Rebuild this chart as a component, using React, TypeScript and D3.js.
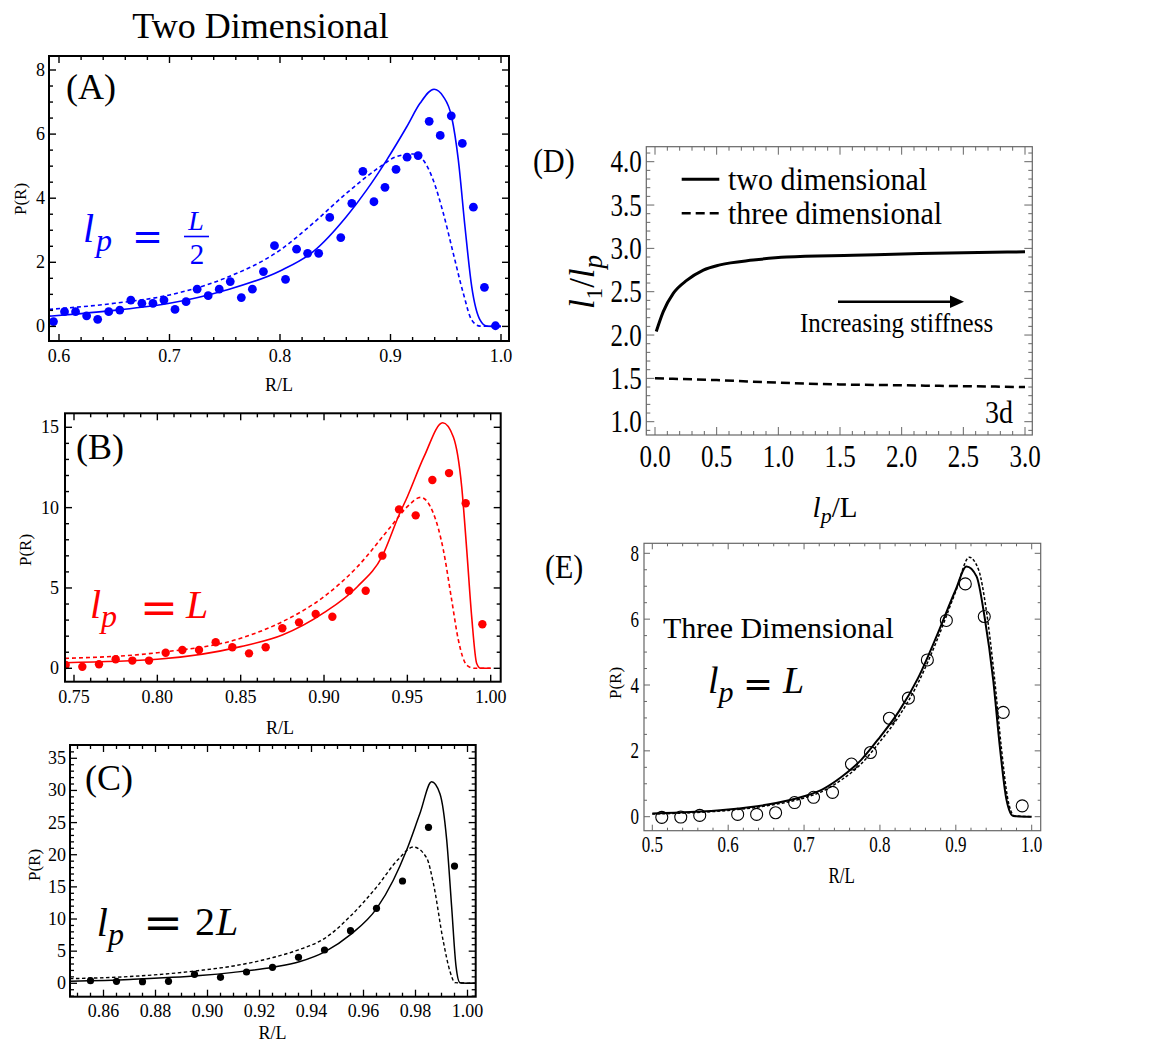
import React from "react";
import * as d3 from "d3";

const FONT = "'Liberation Serif', 'Times New Roman', Times, serif";

// ---------- Panel A (2D, lp = L/2) ----------
const aPointX = [0.595, 0.605, 0.615, 0.625, 0.635, 0.645, 0.655, 0.665, 0.675, 0.685, 0.695, 0.705, 0.715, 0.725, 0.735, 0.745, 0.755, 0.765, 0.775, 0.785, 0.795, 0.805, 0.815, 0.825, 0.835, 0.845, 0.855, 0.865, 0.875, 0.885, 0.895, 0.905, 0.915, 0.925, 0.935, 0.945, 0.955, 0.965, 0.975, 0.985, 0.995];
const aPointY = [0.15, 0.46, 0.46, 0.33, 0.22, 0.46, 0.51, 0.82, 0.72, 0.72, 0.82, 0.53, 0.77, 1.16, 0.96, 1.16, 1.4, 0.9, 1.16, 1.71, 2.52, 1.47, 2.41, 2.28, 2.28, 3.4, 2.77, 3.84, 4.84, 3.89, 4.34, 4.9, 5.28, 5.33, 6.4, 5.96, 6.57, 5.71, 3.72, 1.22, 0.02];
const aSolidX = [0.591, 0.62, 0.65, 0.7, 0.75, 0.8, 0.83, 0.86, 0.8785, 0.8965, 0.9147, 0.9267, 0.9394, 0.9478, 0.9553, 0.9614, 0.9674, 0.9735, 0.981, 0.987, 1.0];
const aSolidY = [0.32, 0.4, 0.5, 0.72, 1.12, 1.73, 2.33, 3.42, 4.26, 5.19, 6.23, 6.96, 7.4, 7.17, 6.54, 5.19, 3.11, 1.24, 0.2, 0.01, 0];
const aDashX = [0.591, 0.65, 0.7, 0.75, 0.8, 0.83, 0.86, 0.8905, 0.9056, 0.9206, 0.9296, 0.9387, 0.9478, 0.9568, 0.9659, 0.9735, 0.981, 1.0];
const aDashY = [0.53, 0.72, 0.98, 1.5, 2.38, 3.22, 4.15, 4.98, 5.3, 5.38, 5.19, 4.56, 3.53, 2.28, 1.03, 0.2, 0.01, 0];
const aXTicks = [0.6, 0.7, 0.8, 0.9, 1.0];
const aYTicks = [0, 2, 4, 6, 8];

// ---------- Panel B (2D, lp = L) ----------
const bPointX = [0.745, 0.755, 0.765, 0.775, 0.785, 0.795, 0.805, 0.815, 0.825, 0.835, 0.845, 0.855, 0.865, 0.875, 0.885, 0.895, 0.905, 0.915, 0.925, 0.935, 0.945, 0.955, 0.965, 0.975, 0.985, 0.995];
const bPointY = [0.21, 0.1, 0.25, 0.56, 0.48, 0.48, 0.97, 1.14, 1.14, 1.62, 1.31, 0.93, 1.31, 2.49, 2.86, 3.38, 3.21, 4.83, 4.83, 7.01, 9.89, 9.52, 11.72, 12.15, 10.27, 2.74];
const bSolidX = [0.7446, 0.8, 0.85, 0.875, 0.9, 0.92, 0.935, 0.945, 0.95, 0.96, 0.9712, 0.9776, 0.9826, 0.9856, 0.9886, 0.9916, 0.994, 1.0];
const bSolidY = [0.35, 0.56, 1.35, 2.07, 3.46, 5.08, 7.0, 9.54, 10.68, 13.17, 15.28, 14.4, 11.3, 7.4, 3.2, 0.3, 0, 0];
const bDashX = [0.7446, 0.8, 0.85, 0.875, 0.9, 0.92, 0.94, 0.95, 0.958, 0.9656, 0.9716, 0.9766, 0.9806, 0.9856, 0.99, 1.0];
const bDashY = [0.62, 0.97, 1.87, 2.9, 4.46, 6.32, 8.81, 10.06, 10.64, 9.65, 7.36, 4.25, 1.76, 0.2, 0, 0];
const bXTicks = [0.75, 0.8, 0.85, 0.9, 0.95, 1.0];
const bYTicks = [0, 5, 10, 15];

// ---------- Panel C (2D, lp = 2L) ----------
const cPointX = [0.855, 0.865, 0.875, 0.885, 0.895, 0.905, 0.915, 0.925, 0.935, 0.945, 0.955, 0.965, 0.975, 0.985, 0.995];
const cPointY = [0.41, 0.31, 0.26, 0.31, 1.4, 0.93, 1.76, 2.49, 4.04, 5.18, 8.18, 11.66, 15.91, 24.26, 18.24];
const cSolidX = [0.8471, 0.87, 0.8971, 0.91, 0.9251, 0.9356, 0.9451, 0.9551, 0.9651, 0.9715, 0.9766, 0.9817, 0.9862, 0.9894, 0.992, 0.9939, 0.9956, 0.9971, 1.003];
const cSolidY = [0.31, 0.6, 1.2, 1.7, 2.5, 3.4, 4.9, 7.6, 11.66, 16.07, 20.73, 26.4, 31.35, 29.5, 22.3, 11.9, 2.6, 0.1, 0];
const cDashX = [0.8471, 0.87, 0.8971, 0.91, 0.9251, 0.935, 0.9451, 0.9551, 0.9651, 0.9734, 0.9792, 0.9843, 0.9869, 0.9907, 0.9933, 0.9952, 1.003];
const cDashY = [0.72, 1.05, 2.0, 2.7, 4.0, 5.2, 7.0, 10.5, 15.0, 19.3, 21.2, 19.5, 15.5, 6.5, 1.8, 0.1, 0];
const cXTicks = [0.86, 0.88, 0.9, 0.92, 0.94, 0.96, 0.98, 1.0];
const cYTicks = [0, 5, 10, 15, 20, 25, 30, 35];

// ---------- Panel D (l1/lp vs lp/L) ----------
const dTwoX = [0.01, 0.067, 0.148, 0.257, 0.392, 0.527, 0.797, 1.068, 1.608, 2.149, 3.0];
const dTwoY = [2.04, 2.27, 2.48, 2.63, 2.75, 2.81, 2.865, 2.9, 2.92, 2.94, 2.96];
const dThreeX = [0.0, 0.5, 1.0, 1.5, 2.0, 2.5, 3.0];
const dThreeY = [1.5, 1.48, 1.45, 1.43, 1.42, 1.41, 1.4];
const dXTicks = [0, 0.5, 1.0, 1.5, 2.0, 2.5, 3.0];
const dYTicks = [1.0, 1.5, 2.0, 2.5, 3.0, 3.5, 4.0];

// ---------- Panel E (3D, lp = L) ----------
const ePointX = [0.5125, 0.5375, 0.5625, 0.6125, 0.6375, 0.6625, 0.6875, 0.7125, 0.7375, 0.7625, 0.7875, 0.8125, 0.8375, 0.8625, 0.8875, 0.9125, 0.9375, 0.9625, 0.9875];
const ePointY = [-0.02, -0.01, 0.04, 0.07, 0.07, 0.12, 0.43, 0.59, 0.74, 1.6, 1.95, 2.99, 3.6, 4.76, 5.96, 7.07, 6.08, 3.17, 0.33];
const eSolidX = [0.5, 0.55, 0.6, 0.65, 0.7, 0.725, 0.75, 0.775, 0.8, 0.825, 0.85, 0.875, 0.9, 0.914, 0.9273, 0.9378, 0.9493, 0.958, 0.9668, 0.9756, 1.0];
const eSolidY = [0.1, 0.14, 0.22, 0.36, 0.62, 0.84, 1.22, 1.72, 2.42, 3.2, 4.2, 5.5, 6.9, 7.6, 7.3, 6.08, 4.15, 2.13, 0.51, 0.02, 0];
const eDashX = [0.5, 0.55, 0.6, 0.65, 0.7, 0.725, 0.75, 0.775, 0.8, 0.825, 0.85, 0.875, 0.9, 0.9177, 0.93, 0.94, 0.951, 0.96, 0.968, 0.977, 1.0];
const eDashY = [0.08, 0.12, 0.19, 0.33, 0.57, 0.78, 1.13, 1.6, 2.28, 3.05, 4.05, 5.35, 6.85, 7.88, 7.5, 6.3, 4.2, 2.1, 0.6, 0.03, 0];
const eXTicks = [0.5, 0.6, 0.7, 0.8, 0.9, 1.0];
const eYTicks = [0, 2, 4, 6, 8];

type Scale = d3.ScaleLinear<number, number>;
type Box = [number, number, number, number];

function minorTicks(lo: number, hi: number, step: number, majors: number[]) {
  const a = Math.ceil(lo / step - 1e-6);
  const b = Math.floor(hi / step + 1e-6);
  return d3.range(a, b + 1).map((k) => k * step).filter((v) => !majors.some((m) => Math.abs(m - v) < step / 10));
}

function Frame(props: {
  box: Box; xs: Scale; ys: Scale; xMajor: number[]; yMajor: number[];
  xMinor: number; yMinor: number; color: string; sw: number; tw: number; maj: number; min: number;
}) {
  const { box, xs, ys, xMajor, yMajor, xMinor, yMinor, color, sw, tw, maj, min } = props;
  const [x0, y0, x1, y1] = box;
  const ticks: JSX.Element[] = [];
  const xm = minorTicks(xs.invert(x0), xs.invert(x1), xMinor, xMajor);
  const ym = minorTicks(ys.invert(y1), ys.invert(y0), yMinor, yMajor);
  const addX = (v: number, len: number, k: string) => {
    const x = xs(v);
    if (x < x0 + 0.5 || x > x1 - 0.5) return;
    ticks.push(<line key={"xb" + k} x1={x} x2={x} y1={y1} y2={y1 - len} />);
    ticks.push(<line key={"xt" + k} x1={x} x2={x} y1={y0} y2={y0 + len} />);
  };
  const addY = (v: number, len: number, k: string) => {
    const y = ys(v);
    if (y < y0 + 0.5 || y > y1 - 0.5) return;
    ticks.push(<line key={"yl" + k} x1={x0} x2={x0 + len} y1={y} y2={y} />);
    ticks.push(<line key={"yr" + k} x1={x1} x2={x1 - len} y1={y} y2={y} />);
  };
  xMajor.forEach((v, i) => addX(v, maj, "M" + i));
  xm.forEach((v, i) => addX(v, min, "m" + i));
  yMajor.forEach((v, i) => addY(v, maj, "M" + i));
  ym.forEach((v, i) => addY(v, min, "m" + i));
  return (
    <g>
      <g stroke={color} strokeWidth={tw}>{ticks}</g>
      <rect x={x0} y={y0} width={x1 - x0} height={y1 - y0} fill="none" stroke={color} strokeWidth={sw} />
    </g>
  );
}

function curvePath(xs: Scale, ys: Scale, X: number[], Y: number[]) {
  const pts: [number, number][] = X.map((x, i) => [x, Y[i]]);
  return d3.line<[number, number]>().x((d) => xs(d[0])).y((d) => ys(d[1])).curve(d3.curveMonotoneX)(pts) || "";
}

function Clip({ id, box }: { id: string; box: Box }) {
  return (
    <clipPath id={id}>
      <rect x={box[0]} y={box[1]} width={box[2] - box[0]} height={box[3] - box[1]} />
    </clipPath>
  );
}

function Eq({ cx, base, w, size, color }: { cx: number; base: number; w: number; size: number; color: string }) {
  return (
    <text x={cx - w / 2} y={base} fontSize={size} fill={color} fontStyle="normal" fontFamily="'DejaVu Serif', serif" textLength={w} lengthAdjust="spacingAndGlyphs">=</text>
  );
}

export default function App() {
  // Panel A
  const aBox: Box = [49, 56, 509, 341];
  const aX = d3.scaleLinear().domain([0.6, 1.0]).range([59, 501]);
  const aY = d3.scaleLinear().domain([0, 8]).range([326.4, 70]);
  // Panel B
  const bBox: Box = [65, 413.3, 500.7, 681.7];
  const bX = d3.scaleLinear().domain([0.75, 1.0]).range([74, 490.7]);
  const bY = d3.scaleLinear().domain([0, 15]).range([668.3, 427.3]);
  // Panel C
  const cBox: Box = [70, 745, 475.7, 996.7];
  const cX = d3.scaleLinear().domain([0.86, 1.0]).range([103.5, 467.5]);
  const cY = d3.scaleLinear().domain([0, 35]).range([983.3, 758.3]);
  // Panel D
  const dBox: Box = [646.3, 146.7, 1032.3, 435];
  const dX = d3.scaleLinear().domain([0, 3]).range([655, 1025]);
  const dY = d3.scaleLinear().domain([1, 4]).range([421.7, 161.7]);
  // Panel E
  const eBox: Box = [644, 543.3, 1040.7, 830.7];
  const eX = d3.scaleLinear().domain([0.5, 1.0]).range([652.3, 1031.7]);
  const eY = d3.scaleLinear().domain([0, 8]).range([816.7, 553.3]);

  const f1 = d3.format(".1f");
  const f2 = d3.format(".2f");
  const f0 = d3.format("d");
  const BLUE = "#0000ff";
  const RED = "#ff0000";
  const GRAY = "#666666";

  return (
    <svg width={1153} height={1044} style={{ position: "absolute", left: 0, top: 0, background: "#fff" }} fontFamily={FONT}>
      <defs>
        <Clip id="clipA" box={aBox} />
        <Clip id="clipB" box={bBox} />
        <Clip id="clipC" box={cBox} />
        <Clip id="clipD" box={dBox} />
        <Clip id="clipE" box={eBox} />
      </defs>
      <rect x={0} y={0} width={1153} height={1044} fill="#fff" />

      {/* Title */}
      <text x={260.5} y={38} fontSize={36} textAnchor="middle">Two Dimensional</text>

      {/* ================= Panel A ================= */}
      <g clipPath="url(#clipA)" fill="none" stroke={BLUE}>
        <path d={curvePath(aX, aY, aDashX, aDashY)} strokeWidth={1.6} strokeDasharray="4,3" />
        <path d={curvePath(aX, aY, aSolidX, aSolidY)} strokeWidth={1.6} />
      </g>
      <g fill={BLUE}>
        {aPointX.map((x, i) => <circle key={i} cx={aX(x)} cy={aY(aPointY[i])} r={4.4} />)}
      </g>
      <Frame box={aBox} xs={aX} ys={aY} xMajor={aXTicks} yMajor={aYTicks} xMinor={0.02} yMinor={0.5} color="#000" sw={2} tw={1.4} maj={7} min={4} />
      <g fontSize={18}>
        {aXTicks.map((v) => <text key={v} x={aX(v)} y={361.5} textAnchor="middle">{f1(v)}</text>)}
        {aYTicks.map((v) => <text key={v} x={45} y={aY(v) + 6} textAnchor="end">{f0(v)}</text>)}
        <text x={279} y={391} textAnchor="middle">R/L</text>
        <text transform={`translate(26,199) rotate(-90)`} textAnchor="middle" fontSize={17}>P(R)</text>
      </g>
      <text x={66} y={98.5} fontSize={36}>(A)</text>
      <g fill={BLUE} fontStyle="italic">
        <text x={83} y={242} fontSize={40}>l</text>
        <text x={96} y={251} fontSize={32}>p</text>
        <Eq cx={147.5} base={250} w={31} size={40} color={BLUE} />
        <text x={196} y={230} fontSize={28} textAnchor="middle">L</text>
        <line x1={184} x2={209} y1={236.5} y2={236.5} stroke={BLUE} strokeWidth={1.6} />
        <text x={197} y={263.5} fontSize={29} fontStyle="normal" textAnchor="middle">2</text>
      </g>

      {/* ================= Panel B ================= */}
      <g clipPath="url(#clipB)" fill="none" stroke={RED}>
        <path d={curvePath(bX, bY, bDashX, bDashY)} strokeWidth={1.6} strokeDasharray="4,3" />
        <path d={curvePath(bX, bY, bSolidX, bSolidY)} strokeWidth={1.6} />
      </g>
      <g fill={RED} clipPath="url(#clipB)">
        {bPointX.map((x, i) => <circle key={i} cx={bX(x)} cy={bY(bPointY[i])} r={4.2} />)}
      </g>
      <Frame box={bBox} xs={bX} ys={bY} xMajor={bXTicks} yMajor={bYTicks} xMinor={0.01} yMinor={1} color="#000" sw={2} tw={1.4} maj={7} min={4} />
      <g fontSize={18}>
        {bXTicks.map((v) => <text key={v} x={bX(v)} y={703} textAnchor="middle">{f2(v)}</text>)}
        {bYTicks.map((v) => <text key={v} x={59} y={bY(v) + 6} textAnchor="end">{f0(v)}</text>)}
        <text x={280} y={734} textAnchor="middle">R/L</text>
        <text transform={`translate(31,550) rotate(-90)`} textAnchor="middle" fontSize={17}>P(R)</text>
      </g>
      <text x={76} y={459} fontSize={36}>(B)</text>
      <g fill={RED} fontStyle="italic">
        <text x={90} y={618} fontSize={40}>l</text>
        <text x={101} y={627} fontSize={32}>p</text>
        <Eq cx={159} base={623} w={38} size={44} color={RED} />
        <text x={186} y={618.3} fontSize={40}>L</text>
      </g>

      {/* ================= Panel C ================= */}
      <g clipPath="url(#clipC)" fill="none" stroke="#000">
        <path d={curvePath(cX, cY, cDashX, cDashY)} strokeWidth={1.4} strokeDasharray="3.5,2.5" />
        <path d={curvePath(cX, cY, cSolidX, cSolidY)} strokeWidth={1.5} />
      </g>
      <g fill="#000">
        {cPointX.map((x, i) => <circle key={i} cx={cX(x)} cy={cY(cPointY[i])} r={3.6} />)}
      </g>
      <Frame box={cBox} xs={cX} ys={cY} xMajor={cXTicks} yMajor={cYTicks} xMinor={0.005} yMinor={1} color="#000" sw={2} tw={1.3} maj={7} min={4} />
      <g fontSize={18}>
        {cXTicks.map((v) => <text key={v} x={cX(v)} y={1017} textAnchor="middle">{f2(v)}</text>)}
        {cYTicks.map((v) => <text key={v} x={66} y={cY(v) + 6} textAnchor="end">{f0(v)}</text>)}
        <text x={272.5} y={1039} textAnchor="middle">R/L</text>
        <text transform={`translate(40,865) rotate(-90)`} textAnchor="middle" fontSize={17}>P(R)</text>
      </g>
      <text x={85} y={790} fontSize={36}>(C)</text>
      <g fill="#000" fontStyle="italic">
        <text x={96.7} y={936} fontSize={40}>l</text>
        <text x={108} y={945} fontSize={32}>p</text>
        <Eq cx={163} base={938} w={40} size={44} color="#000" />
        <text x={195} y={935} fontSize={40} fontStyle="normal">2</text>
        <text x={216} y={935} fontSize={40}>L</text>
      </g>

      {/* ================= Panel D ================= */}
      <g clipPath="url(#clipD)" fill="none" stroke="#000">
        <path d={curvePath(dX, dY, dThreeX, dThreeY)} strokeWidth={2.5} strokeDasharray="9,5" />
        <path d={curvePath(dX, dY, dTwoX, dTwoY)} strokeWidth={3} />
      </g>
      <Frame box={dBox} xs={dX} ys={dY} xMajor={dXTicks} yMajor={dYTicks} xMinor={0.1} yMinor={0.1} color={GRAY} sw={1.2} tw={1} maj={8} min={4} />
      <g fontSize={25}>
        {dXTicks.map((v) => <text key={v} transform={`translate(${dX(v)},466.7) scale(1,1.28)`} textAnchor="middle">{f1(v)}</text>)}
        {dYTicks.map((v) => <text key={v} transform={`translate(641.7,${dY(v) + 10.5}) scale(1,1.28)`} textAnchor="end">{f1(v)}</text>)}
      </g>
      <text transform="translate(533,172) scale(1,1.1)" fontSize={30}>(D)</text>
      <text transform="translate(594,282) rotate(-90)" textAnchor="middle" fontSize={35}>
        <tspan fontStyle="italic">l</tspan><tspan fontSize={23} dy={8}>1</tspan><tspan dy={-8}>/</tspan><tspan fontStyle="italic">l</tspan><tspan fontSize={27} fontStyle="italic" dy={8}>p</tspan>
      </text>
      <text x={835} y={517} textAnchor="middle" fontSize={29}>
        <tspan fontStyle="italic">l</tspan><tspan fontSize={22} fontStyle="italic" dy={6}>p</tspan><tspan dy={-6}>/L</tspan>
      </text>
      <line x1={681.7} x2={719.3} y1={179.3} y2={179.3} stroke="#000" strokeWidth={3} />
      <text transform="translate(728,190) scale(1,1.08)" fontSize={30}>two dimensional</text>
      <line x1={681.7} x2={719.3} y1={213.3} y2={213.3} stroke="#000" strokeWidth={2.5} strokeDasharray="9,5" />
      <text transform="translate(728,224) scale(1,1.08)" fontSize={30}>three dimensional</text>
      <line x1={838} x2={954} y1={301.7} y2={301.7} stroke="#000" strokeWidth={2.5} />
      <path d="M 964 301.7 L 950 295.5 L 950 307.9 Z" fill="#000" />
      <text transform="translate(800,331.7) scale(1,1.12)" fontSize={25}>Increasing stiffness</text>
      <text transform="translate(985,423) scale(1,1.15)" fontSize={28}>3d</text>

      {/* ================= Panel E ================= */}
      <g clipPath="url(#clipE)" fill="none" stroke="#000">
        <path d={curvePath(eX, eY, eDashX, eDashY)} strokeWidth={1.5} strokeDasharray="3,2" />
        <path d={curvePath(eX, eY, eSolidX, eSolidY)} strokeWidth={2} />
      </g>
      <g fill="none" stroke="#000" strokeWidth={1.1}>
        {ePointX.map((x, i) => <circle key={i} cx={eX(x)} cy={eY(ePointY[i])} r={6} />)}
      </g>
      <Frame box={eBox} xs={eX} ys={eY} xMajor={eXTicks} yMajor={eYTicks} xMinor={0.02} yMinor={0.5} color={GRAY} sw={1.2} tw={1} maj={6} min={3} />
      <g fontSize={17}>
        {eXTicks.map((v) => <text key={v} transform={`translate(${eX(v)},851.7) scale(1,1.3)`} textAnchor="middle">{f1(v)}</text>)}
        {eYTicks.map((v) => <text key={v} transform={`translate(639,${eY(v) + 7.5}) scale(1,1.3)`} textAnchor="end">{f0(v)}</text>)}
        <text transform="translate(841.7,883) scale(1,1.3)" textAnchor="middle">R/L</text>
        <text transform="translate(621,683) rotate(-90)" textAnchor="middle" fontSize={17}>P(R)</text>
      </g>
      <text transform="translate(545,578) scale(1,1.12)" fontSize={30}>(E)</text>
      <text x={663} y={638} fontSize={30}>Three Dimensional</text>
      <g fill="#000" fontStyle="italic">
        <text x={708} y={693} fontSize={38}>l</text>
        <text x={718.5} y={702} fontSize={30}>p</text>
        <Eq cx={758} base={697} w={30} size={38} color="#000" />
        <text x={783} y={693} fontSize={38}>L</text>
      </g>
    </svg>
  );
}
